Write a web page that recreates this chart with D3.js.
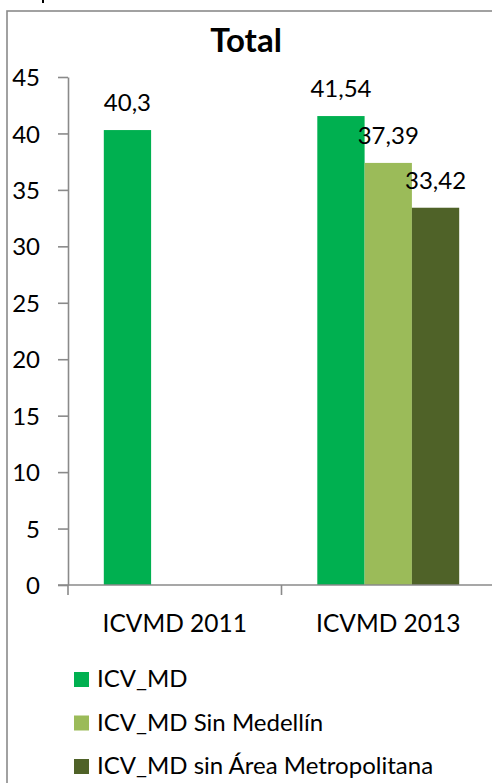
<!DOCTYPE html>
<html><head><meta charset="utf-8">
<script src="https://cdn.jsdelivr.net/npm/d3@7"></script>
<style>html,body{margin:0;padding:0;background:#fff;overflow:hidden}svg{display:block;font-family:Lato,"Open Sans",sans-serif}</style>
</head><body>
<svg id="c" width="492" height="783"></svg>
<script>
const categories = ["ICVMD 2011", "ICVMD 2013"];
const seriesNames = ["ICV_MD", "ICV_MD Sin Medellín", "ICV_MD sin Área Metropolitana"];
const seriesColors = ["#00B050", "#9BBB59", "#4F6228"];
const icvMd = [40.3, 41.54];
const sinMedellin = [null, 37.39];
const sinArea = [null, 33.42];
const yTicks = [0, 5, 10, 15, 20, 25, 30, 35, 40, 45];
const title = "Total";

const seriesValues = [icvMd, sinMedellin, sinArea];
const svg = d3.select("#c");
const axisColor = "#8a8a8a";

// outer frame (extends beyond the window on right and bottom)
svg.append("rect").attr("x", 7).attr("y", 11).attr("width", 600).attr("height", 900)
  .attr("fill", "none").attr("stroke", axisColor).attr("stroke-width", 1.6);

// stray mark at the very top (cropped content above the chart)
svg.append("rect").attr("x", 42).attr("y", 0).attr("width", 2).attr("height", 3).attr("fill", "#000");

svg.append("text").attr("x", 246).attr("y", 51.5).attr("text-anchor", "middle")
  .attr("font-size", 33).attr("font-weight", "bold").text(title);

const y = d3.scaleLinear().domain([0, 45]).range([585, 77]);
const x0 = d3.scaleBand().domain(categories).range([68, 495]).paddingInner(0).paddingOuter(0);
const bw = x0.bandwidth();
const x1 = d3.scaleBand().domain(d3.range(seriesNames.length)).range([bw * 0.1677, bw * 0.8323]).padding(0);

// y axis
const yAxis = svg.append("g").attr("transform", "translate(68,0)")
  .call(d3.axisLeft(y).tickValues(yTicks).tickSize(10).tickSizeOuter(0).tickPadding(18).tickFormat(d3.format("d")));
yAxis.select(".domain").attr("stroke", axisColor).attr("stroke-width", 1.6);
yAxis.selectAll(".tick line").attr("stroke", axisColor).attr("stroke-width", 1.6);
yAxis.selectAll(".tick text").attr("font-size", 24).attr("fill", "#000").attr("font-family", "Lato,'Open Sans',sans-serif").attr("dy", "0.36em");

// bars
categories.forEach((c, ci) => {
  seriesValues.forEach((vals, si) => {
    const v = vals[ci];
    if (v == null) return;
    const bx = x0(c) + x1(si);
    svg.append("rect").attr("x", bx).attr("y", y(v)).attr("width", x1.bandwidth())
      .attr("height", y(0) - y(v)).attr("fill", seriesColors[si]);
  });
});

// x axis
svg.append("line").attr("x1", 58).attr("x2", 495).attr("y1", y(0)).attr("y2", y(0))
  .attr("stroke", axisColor).attr("stroke-width", 1.6);
const xEdges = [...categories.map(c => x0(c)), x0(categories[categories.length - 1]) + bw];
svg.selectAll(".xt").data(xEdges).enter().append("line")
  .attr("x1", d => d).attr("x2", d => d).attr("y1", y(0)).attr("y2", y(0) + 10)
  .attr("stroke", axisColor).attr("stroke-width", 1.6);
svg.selectAll(".xl").data(categories).enter().append("text")
  .attr("x", d => x0(d) + bw / 2).attr("y", 632).attr("text-anchor", "middle")
  .attr("font-size", 24.5).attr("fill", "#000").text(d => d);

// data labels
categories.forEach((c, ci) => {
  seriesValues.forEach((vals, si) => {
    const v = vals[ci];
    if (v == null) return;
    svg.append("text").attr("x", x0(c) + x1(si) + x1.bandwidth() / 2).attr("y", y(v) - 19)
      .attr("text-anchor", "middle").attr("font-size", 24).attr("fill", "#000")
      .text(String(v).replace(".", ","));
  });
});

// legend
const lg = svg.append("g");
seriesNames.forEach((n, i) => {
  const by = 687 + i * 43.5;
  lg.append("rect").attr("x", 74).attr("y", by - 15).attr("width", 15).attr("height", 15).attr("fill", seriesColors[i]);
  lg.append("text").attr("x", 97).attr("y", by).attr("font-size", 24).attr("fill", "#000").text(n);
});
</script>
</body></html>
